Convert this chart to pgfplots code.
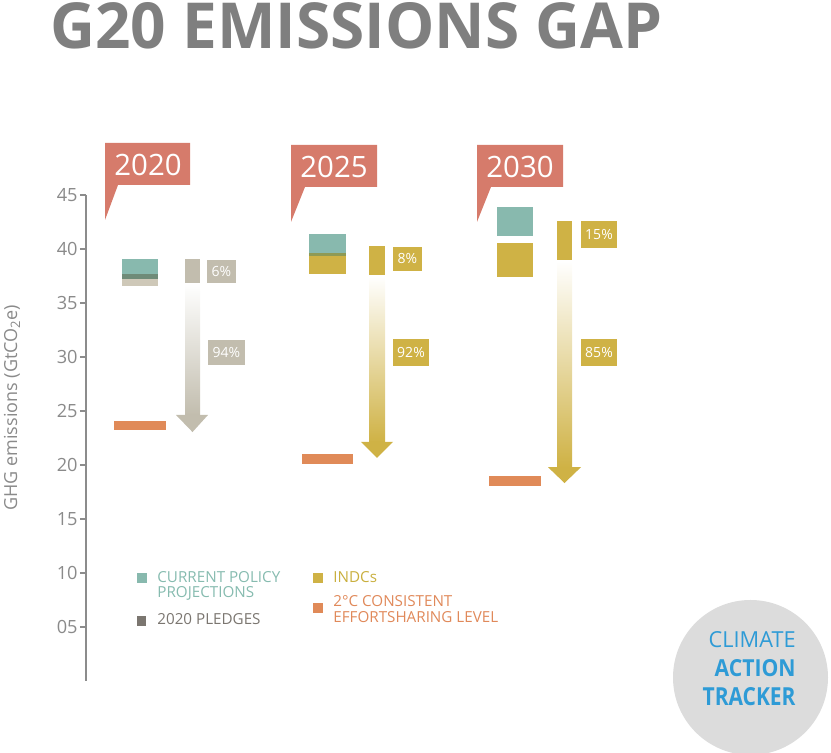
\documentclass[border=0pt]{standalone}
\usepackage{pgfplots}
\pgfplotsset{compat=1.18}
\usepackage{fontspec}
\setmainfont{Open Sans}
\definecolor{cTeal}{HTML}{88B9AE}
\definecolor{cDark}{HTML}{6F8B78}
\definecolor{cBeige}{HTML}{CEC8B8}
\definecolor{cGray}{HTML}{C2BDAE}
\definecolor{cYellow}{HTML}{CFB245}
\definecolor{cOlive}{HTML}{8E9A55}
\definecolor{cOrange}{HTML}{E08A58}
\definecolor{cFlag}{HTML}{D67B6B}
\definecolor{cPledge}{HTML}{7B7670}
\definecolor{cTitle}{HTML}{7F7F7F}
\definecolor{cAxis}{HTML}{8C8C8C}
\definecolor{cTick}{HTML}{8A8A8A}
\definecolor{cCircle}{HTML}{DCDCDC}
\definecolor{cBlue}{HTML}{2E9BD6}
\definecolor{cLegTeal}{HTML}{86BBAF}
\definecolor{cLegYellow}{HTML}{C9AF3E}
\definecolor{cLegOrange}{HTML}{E0895A}
\begin{document}
\begin{tikzpicture}
% ---------------- main data axis (x in pixel units, y in GtCO2e) -------------
\begin{axis}[at={(0,0)}, anchor=south west, scale only axis,
  width=415.5pt, height=376.5pt, xmin=0, xmax=831, ymin=-6.6667, ymax=63.0556,
  hide axis, clip=false]
% 2020 ranges
\addplot[fill=cTeal, draw=none] coordinates {(122,37.66)(158,37.66)(158,39.05)(122,39.05)} --cycle;
\addplot[fill=cDark, draw=none] coordinates {(122,37.2)(158,37.2)(158,37.66)(122,37.66)} --cycle;
\addplot[fill=cBeige, draw=none] coordinates {(122,36.6)(158,36.6)(158,37.2)(122,37.2)} --cycle;
% 2025 ranges
\addplot[fill=cTeal, draw=none] coordinates {(309,39.6)(346,39.6)(346,41.4)(309,41.4)} --cycle;
\addplot[fill=cOlive, draw=none] coordinates {(309,39.35)(346,39.35)(346,39.6)(309,39.6)} --cycle;
\addplot[fill=cYellow, draw=none] coordinates {(309,37.7)(346,37.7)(346,39.35)(309,39.35)} --cycle;
% 2030 ranges
\addplot[fill=cTeal, draw=none] coordinates {(497,41.2)(533,41.2)(533,43.9)(497,43.9)} --cycle;
\addplot[fill=cYellow, draw=none] coordinates {(497,37.4)(533,37.4)(533,40.6)(497,40.6)} --cycle;
% 2 degree levels
\addplot[fill=cOrange, draw=none] coordinates {(114,23.2)(166,23.2)(166,24.1)(114,24.1)} --cycle;
\addplot[fill=cOrange, draw=none] coordinates {(302,20.1)(353,20.1)(353,21.0)(302,21.0)} --cycle;
\addplot[fill=cOrange, draw=none] coordinates {(489,18.06)(541,18.06)(541,19.0)(489,19.0)} --cycle;
% arrows 2020
\addplot[fill=cGray, draw=none] coordinates {(185,36.85)(200,36.85)(200,39.07)(185,39.07)} --cycle;
\addplot[draw=none, top color=white, bottom color=cGray] coordinates {(185,24.6)(200,24.6)(200,36.85)(185,36.85)} --cycle;
\addplot[fill=cGray, draw=none] coordinates {(176,24.63)(208,24.63)(192.5,23.05)} --cycle;
% arrows 2025
\addplot[fill=cYellow, draw=none] coordinates {(369,37.5)(385,37.5)(385,40.3)(369,40.3)} --cycle;
\addplot[draw=none, top color=white, bottom color=cYellow] coordinates {(369,22.1)(385,22.1)(385,37.5)(369,37.5)} --cycle;
\addplot[fill=cYellow, draw=none] coordinates {(361,22.13)(393,22.13)(377,20.65)} --cycle;
% arrows 2030
\addplot[fill=cYellow, draw=none] coordinates {(557,38.9)(572,38.9)(572,42.6)(557,42.6)} --cycle;
\addplot[draw=none, top color=white, bottom color=cYellow] coordinates {(557,19.78)(572,19.78)(572,38.9)(557,38.9)} --cycle;
\addplot[fill=cYellow, draw=none] coordinates {(548,19.8)(581,19.8)(564.5,18.33)} --cycle;
% legend keys
\addplot[only marks, mark=square*, mark size=2.3pt, color=cTeal] coordinates {(141.5,9.54)};
\addplot[only marks, mark=square*, mark size=2.1pt, color=cPledge] coordinates {(141.5,5.56)};
\addplot[only marks, mark=square*, mark size=2.3pt, color=cYellow] coordinates {(318,9.54)};
\addplot[only marks, mark=square*, mark size=2.3pt, color=cOrange] coordinates {(318,6.76)};
\end{axis}
% ---------------- y axis ----------------
\begin{axis}[at={(43pt,36pt)}, anchor=south west, scale only axis,
  width=10pt, height=243pt, xmin=0, xmax=1, ymin=0, ymax=45,
  axis x line=none, axis y line=left,
  y axis line style={-, draw=cAxis, line width=0.7pt},
  ytick={5,10,...,45}, yticklabels={05,10,15,20,25,30,35,40,45},
  tick align=outside, major tick length=3pt,
  tick style={cAxis, line width=0.7pt},
  yticklabel style={font=\fontsize{9.1}{10}\selectfont, text=cTick, inner sep=1pt}]
\end{axis}
% ---------------- decorations in pixel coordinates ----------------
\begin{scope}[x=0.5pt, y=-0.5pt, shift={(0pt,376.5pt)}]
% title
\node[anchor=south west, inner sep=0, text=cTitle] at (50,50)
  {\resizebox{306pt}{23pt}{\bfseries G20 EMISSIONS GAP}};
% flags
\fill[cFlag] (106,143) -- (190,143) -- (190,185) -- (118,185) -- (105,220) -- (105,143) -- cycle;
\fill[cFlag] (292,145) -- (377,145) -- (377,187) -- (305,187) -- (291,222) -- (291,145) -- cycle;
\fill[cFlag] (478,145) -- (563,145) -- (563,187) -- (491,187) -- (477,222) -- (477,145) -- cycle;
\node[text=white, inner sep=0, font=\fontsize{14.7}{16}\selectfont] at (148,165) {2020};
\node[text=white, inner sep=0, font=\fontsize{14.7}{16}\selectfont] at (334,167) {2025};
\node[text=white, inner sep=0, font=\fontsize{14.7}{16}\selectfont] at (520,167) {2030};
% percentage labels
\tikzset{pct/.style={inner sep=0, text=white, font=\fontsize{7}{8}\selectfont}}
\fill[cGray] (207,260) rectangle (236,283); \node[pct] at (221.5,271.5) {6\%};
\fill[cGray] (208,340) rectangle (245,365); \node[pct] at (226.5,352.5) {94\%};
\fill[cYellow] (393,247) rectangle (422,271); \node[pct] at (407.5,259) {8\%};
\fill[cYellow] (393,339) rectangle (429,366); \node[pct] at (411,352.5) {92\%};
\fill[cYellow] (581,221) rectangle (617,248); \node[pct] at (599,234.5) {15\%};
\fill[cYellow] (581,339) rectangle (617,366); \node[pct] at (599,352.5) {85\%};
% y label
\node[rotate=90, text=cTick, inner sep=0, font=\fontsize{9}{10}\selectfont] at (12,408)
  {GHG emissions (GtCO\raisebox{-0.3ex}{\fontsize{6.5}{7}\selectfont 2}e)};
% legend text
\tikzset{leg/.style={anchor=base west, inner sep=0, font=\fontsize{7.6}{9}\selectfont}}
\node[leg, text=cLegTeal] at (157,583) {CURRENT POLICY};
\node[leg, text=cLegTeal] at (157,598) {PROJECTIONS};
\node[leg, text=cPledge] at (157,625) {2020 PLEDGES};
\node[leg, text=cLegYellow] at (333,583) {INDCs};
\node[leg, text=cLegOrange] at (333,607) {2°C CONSISTENT};
\node[leg, text=cLegOrange] at (333,623) {EFFORTSHARING LEVEL};
% climate action tracker badge
\fill[cCircle] (750.5,677.5) circle (77.5);
\node[anchor=south east, inner sep=0, text=cBlue] at (796,648) {\resizebox{43.5pt}{8pt}{CLIMATE}};
\node[anchor=south east, inner sep=0, text=cBlue] at (796,677) {\resizebox{40.5pt}{8.5pt}{\bfseries ACTION}};
\node[anchor=south east, inner sep=0, text=cBlue] at (796,706) {\resizebox{46.5pt}{9pt}{\bfseries TRACKER}};
\end{scope}
\pgfresetboundingbox
\path[use as bounding box] (0,0) rectangle (415.5pt,376.5pt);
\end{tikzpicture}
\end{document}
